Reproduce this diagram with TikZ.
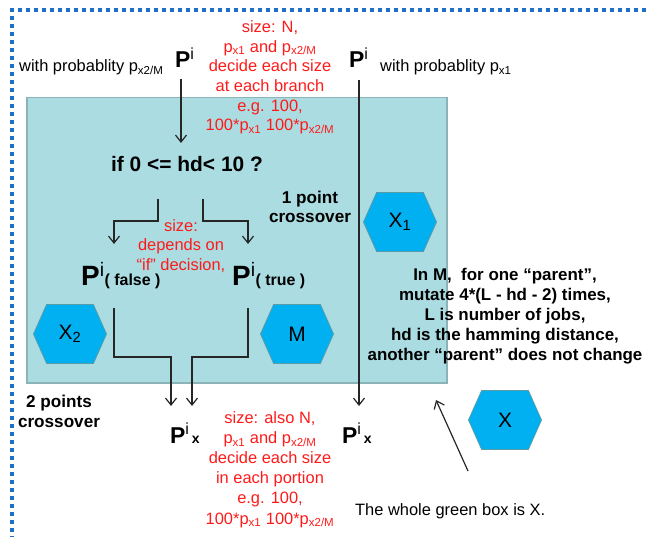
\documentclass[tikz,border=0pt]{standalone}
\usepackage{fontspec}
\setmainfont{Liberation Sans}
\definecolor{framecol}{HTML}{1F70C8}
\definecolor{boxfill}{HTML}{AADCE1}
\definecolor{boxedge}{HTML}{8CB4B8}
\definecolor{hexfill}{HTML}{00B0F0}
\definecolor{hexedge}{HTML}{5B9BA8}
\definecolor{note}{HTML}{FF1A1A}
\usetikzlibrary{arrows.meta,shapes.symbols,calc}
\newcommand{\parentP}{\textbf{P}\textsuperscript{i}}

\begin{document}
\begin{tikzpicture}[x=1bp,y=-1bp,>={Straight Barb[length=7bp,width=11bp]},
  every node/.style={inner sep=0pt},
  flow/.style={->,line width=1.2bp,draw=black!85},
  framedots/.style={draw=framecol,line width=3.6bp,dash pattern=on 3.6bp off 4.4bp},
  boxarea/.style={draw=boxedge,fill=boxfill,line width=1.5bp},
  hexa/.style={signal,signal to=east and west,signal pointer angle=132,fill=hexfill,draw=hexedge,line width=0.8bp,minimum width=73bp,minimum height=59bp,font=\fontsize{21}{21}\selectfont},
  rednote/.style={text=note,align=center,font=\fontsize{16.5}{19.8}\selectfont},
  boldnote/.style={align=center,font=\bfseries\fontsize{17.2}{20}\selectfont},
  plain/.style={font=\fontsize{16.5}{20}\selectfont},
  pnode/.style={font=\fontsize{23}{23}\selectfont}]
\useasboundingbox (0,0) rectangle (646,537);
\draw[framedots] (646,10) -- (12,10) -- (12,540);
\node[boxarea,anchor=north west,minimum width=420bp,minimum height=285bp] (greenbox) at (26,97) {};

% hexagons
\node[hexa] (hxone) at (400,222) {X\textsubscript{1}};
\node[hexa] (hxtwo) at (70,334) {X\textsubscript{2}};
\node[hexa] (hm) at (297,334) {M};
\node[hexa] (hx) at (505,420) {X};

% parents (multi-line nodes sit on their last baseline)
\node[pnode,anchor=base west] (pleft) at (175,68) {\parentP};
\node[pnode,anchor=base west] (pright) at (349,68) {\parentP};
\node[plain,anchor=base west] (probleft) at (19,72) {with probablity p\textsubscript{x2/M}};
\node[plain,anchor=base west] (probright) at (380,72) {with probablity p\textsubscript{x1}};
\node[rednote,anchor=base] (sizetop) at (270,131) {size: N,\\p\textsubscript{x1} and p\textsubscript{x2/M}\\decide each size\\at each branch\\e.g. 100,\\100*p\textsubscript{x1} 100*p\textsubscript{x2/M}};

\node[anchor=base,font=\bfseries\fontsize{21}{21}\selectfont] (cond) at (187,172) {if 0 <= hd< 10 ?};
\node[boldnote,anchor=base] (onept) at (310,223) {1 point\\crossover};
\node[rednote,font=\fontsize{16.5}{19.5}\selectfont,anchor=base] (sizemid) at (181,270) {size:\\depends on\\“if” decision,};
\node[pnode,font=\fontsize{28}{28}\selectfont,anchor=base west] (pfalse) at (81,285) {\parentP{\bfseries\fontsize{16}{16}\selectfont( false )}};
\node[pnode,font=\fontsize{28}{28}\selectfont,anchor=base west] (ptrue) at (232,285) {\parentP{\bfseries\fontsize{16}{16}\selectfont( true )}};
\node[boldnote,font=\bfseries\fontsize{17}{20}\selectfont,anchor=base] (mnote) at (505,360) {In M,\ \ for one “parent”,\\mutate 4*(L - hd - 2) times,\\L is number of jobs,\\hd is the hamming distance,\\another “parent” does not change};

% offspring
\node[boldnote,anchor=base] (twopt) at (59,427) {2 points\\crossover};
\node[pnode,anchor=base west] (pxl) at (170,443) {\parentP{\bfseries\fontsize{14}{14}\selectfont\,x}};
\node[pnode,anchor=base west] (pxr) at (342,443) {\parentP{\bfseries\fontsize{14}{14}\selectfont\,x}};
\node[rednote,font=\fontsize{16.5}{20.2}\selectfont,anchor=base] (sizebot) at (270,524) {size: also N,\\p\textsubscript{x1} and p\textsubscript{x2/M}\\decide each size\\in each portion\\e.g. 100,\\100*p\textsubscript{x1} 100*p\textsubscript{x2/M}};
\node[plain,anchor=base west] (wholenote) at (355,515) {The whole green box is X.};

% connectors
\draw[flow] ($(pleft.base west)+(6,11)$) -- ($(cond.base)+(-6,-29)$);
\draw[flow] ($(pright.base west)+(10,12)$) -- ($(pxr.base west)+(17,-37)$);
\draw[flow] ($(cond.base)+(-29,27)$) -- ++(0,22) -| ($(pfalse.base west)+(33,-41)$);
\draw[flow] ($(cond.base)+(16,27)$) -- ++(0,22) -| ($(ptrue.base west)+(16,-41)$);
\draw[flow] ($(pfalse.base west)+(33,23)$) -- ++(0,49) -| ($(pxl.base west)+(1,-37)$);
\draw[flow] ($(ptrue.base west)+(16,23)$) -- ++(0,49) -| ($(pxl.base west)+(22,-37)$);
\coordinate (tailpt) at (468,471);
\coordinate (boxpoint) at (436,400);
\draw[flow] (tailpt) -- (boxpoint);
\end{tikzpicture}
\end{document}
